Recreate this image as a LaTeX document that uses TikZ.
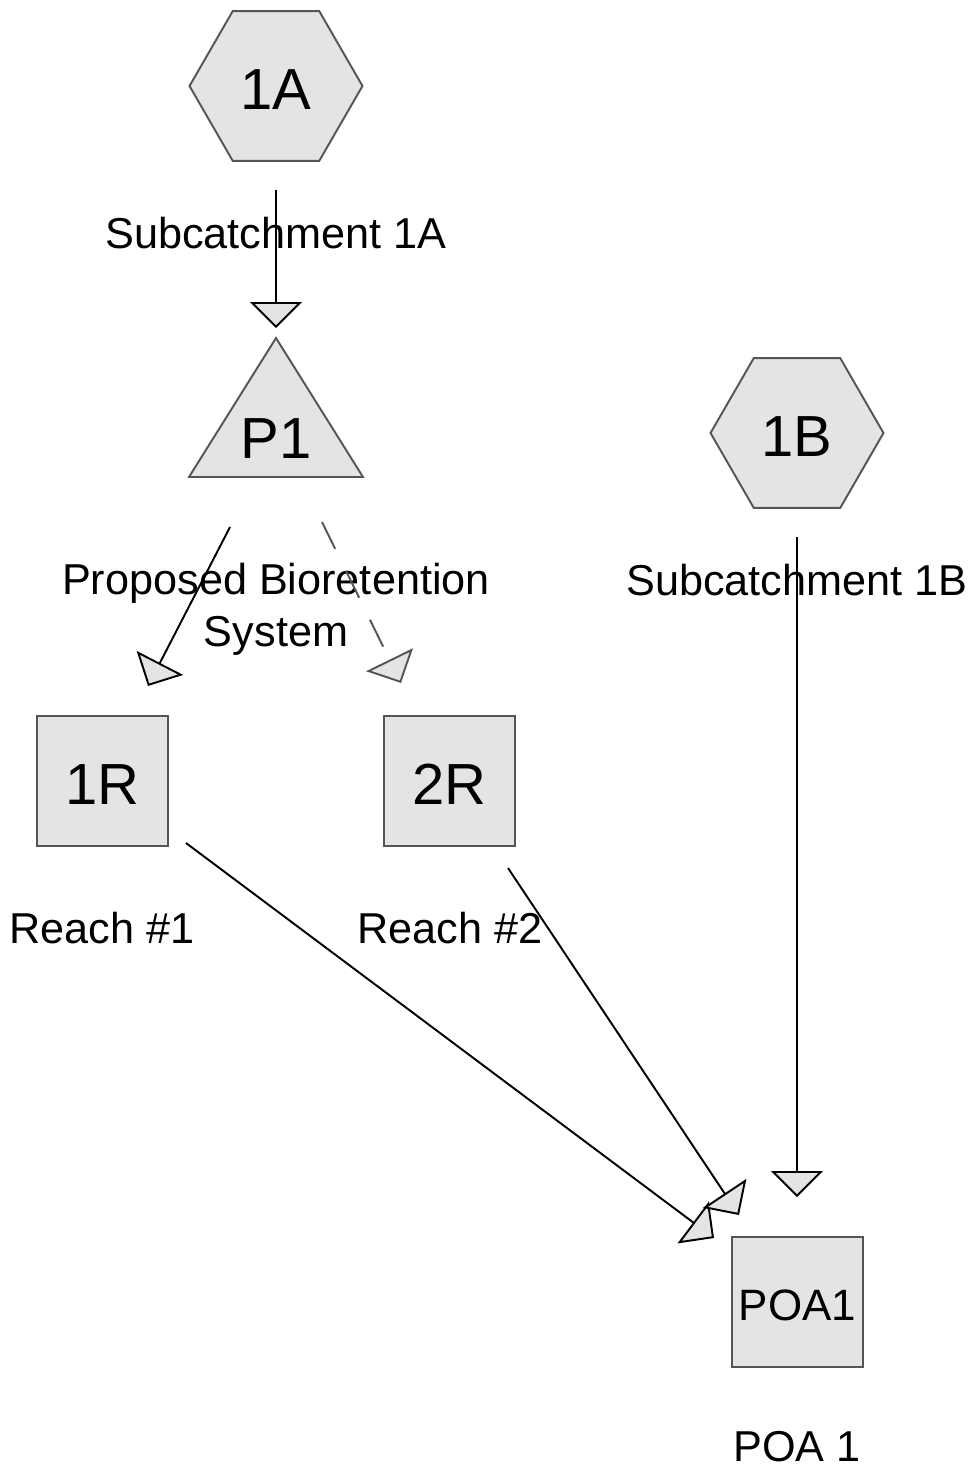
\documentclass[tikz,border=0pt]{standalone}
\usepackage{fontspec}
\setmainfont{Liberation Sans}
\usetikzlibrary{shapes.geometric,arrows.meta}
\definecolor{shapeline}{HTML}{555555}
\definecolor{shapefill}{HTML}{E4E4E4}
\begin{document}
\begin{tikzpicture}[x=0.02cm, y=-0.02cm,
		subcat/.style={ % hexagon of a subcatchment
			regular polygon, regular polygon sides=6, minimum size=3.46cm,
			inner sep=0pt, draw=shapeline, fill=shapefill, line width=1.1pt,
			font=\fontsize{33}{38}\selectfont, text height=27pt, text depth=0pt
		},
		reach/.style={ % square of a reach or link
			rectangle, minimum width=2.62cm, minimum height=2.6cm,
			inner sep=0pt, draw=shapeline, fill=shapefill, line width=1.1pt,
			font=\fontsize{33}{38}\selectfont, text height=27pt, text depth=0pt
		},
		pond/.style={draw=shapeline, fill=shapefill, line width=1.1pt},
		lbl/.style={inner sep=0pt, align=center, font=\fontsize{24.6}{29.6}\selectfont},
		flow/.style={line width=1.1pt,
			-{Triangle[length=0.52cm, width=1.04cm, fill=shapefill]}},
		spill/.style={flow, draw=shapeline, dash pattern=on 17pt off 14pt}
		]
		\useasboundingbox (0,0) rectangle (975,1470);

		%% nodes
		\node[subcat] (1A) at (276,86) {1A};
		\node[lbl] (1A-lbl) at (276,233) {Subcatchment 1A};

		\draw[pond] (276,338) -- (363,477) -- (189,477) -- cycle;
		\node[font=\fontsize{33}{38}\selectfont] (P1) at (276,439) {P1};
		\node[lbl] (P1-lbl) at (276,609) {Proposed Bioretention\\System};

		\node[reach] (1R) at (102.5,781) {1R};
		\node[lbl] (1R-lbl) at (102,928) {Reach \#1};
		\node[reach] (2R) at (449.5,781) {2R};
		\node[lbl] (2R-lbl) at (450,928) {Reach \#2};

		\node[subcat] (1B) at (797,433) {1B};
		\node[lbl] (1B-lbl) at (797,580) {Subcatchment 1B};

		\node[reach, font=\fontsize{25}{30}\selectfont, text height=21.3pt] (POA1) at (797.5,1302) {POA1};
		\node[lbl] (POA1-lbl) at (797,1447) {POA 1};

		%% connector ends
		\coordinate (1A-out) at (276,190);
		\coordinate (P1-in) at (276,328);
		\coordinate (P1-out1) at (230,527);
		\coordinate (1R-in) at (148,686);
		\coordinate (P1-out2) at (322,522);
		\coordinate (2R-in) at (401,683);
		\coordinate (1R-out) at (186,843);
		\coordinate (2R-out) at (508,868);
		\coordinate (1B-out) at (797,537);
		\coordinate (POA1-in1) at (714,1238);
		\coordinate (POA1-in2) at (739,1215);
		\coordinate (POA1-in3) at (797,1197);

		%% flows
		\draw[flow] (1A-out) -- (P1-in);
		\draw[flow] (P1-out1) -- (1R-in);
		\draw[spill] (P1-out2) -- (2R-in);
		\draw[flow] (1R-out) -- (POA1-in1);
		\draw[flow] (2R-out) -- (POA1-in2);
		\draw[flow] (1B-out) -- (POA1-in3);
	\end{tikzpicture}
\end{document}
